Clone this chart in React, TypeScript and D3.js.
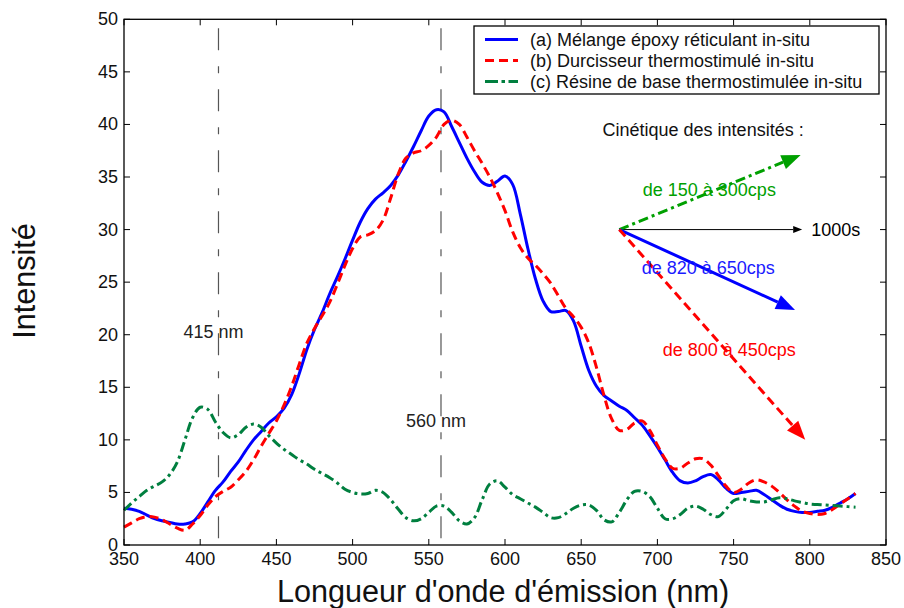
import React from "react";
import * as d3 from "d3";

const xGrid = [350,355,360,365,370,375,380,385,390,395,400,405,410,415,420,425,430,435,440,445,450,455,460,465,470,475,480,485,490,495,500,505,510,515,520,525,530,535,540,545,550,555,560,565,570,575,580,585,590,595,600,605,610,615,620,625,630,635,640,645,650,655,660,665,670,675,680,685,690,695,700,705,710,715,720,725,730,735,740,745,750,755,760,765,770,775,780,785,790,795,800,805,810,815,820,825,830];

const seriesA = [3.5,3.4,3.2,2.85,2.5,2.3,2.15,2.0,2.0,2.2,3.0,4.1,5.2,6.0,7.0,7.9,9.0,10.0,10.8,11.6,12.2,13.0,14.3,16.3,18.6,20.5,22.1,23.9,25.5,27.2,29.0,30.7,32.0,32.9,33.5,34.2,35.2,36.5,37.9,39.4,40.8,41.4,41.2,39.8,38.3,36.8,35.5,34.5,34.2,34.6,35.1,34.3,31.5,28.2,25.3,23.2,22.2,22.2,22.3,21.3,18.9,16.6,15.1,14.2,13.7,13.2,12.8,12.1,11.4,10.4,9.3,8.1,6.9,6.1,5.9,6.1,6.5,6.7,6.2,5.4,4.9,5.0,5.1,5.2,4.8,4.3,3.8,3.4,3.2,3.1,3.1,3.2,3.3,3.6,4.0,4.4,4.9];

const seriesB = [1.7,2.1,2.5,2.7,2.65,2.4,2.0,1.6,1.4,2.0,2.8,3.8,4.6,5.1,5.5,6.2,7.0,8.1,9.4,10.6,11.8,13.3,15.1,17.2,19.2,20.6,21.8,23.1,24.8,26.6,28.2,29.3,29.5,29.9,30.9,33.0,35.3,36.8,37.3,37.5,38.0,38.8,40.0,40.4,40.0,38.8,37.5,36.3,35.0,33.5,31.8,29.8,28.3,27.3,26.6,25.8,24.9,23.7,22.5,21.7,20.7,19.2,16.9,14.2,12.0,10.9,11.0,11.6,11.8,10.9,9.5,8.2,7.3,7.3,7.8,8.2,8.2,7.6,6.6,5.6,5.0,5.3,5.9,6.2,6.0,5.6,5.0,4.3,3.7,3.2,3.0,2.9,3.0,3.4,3.9,4.4,4.9];

const seriesC = [3.3,4.0,4.6,5.2,5.6,6.0,6.7,7.9,10.0,12.1,13.1,12.9,11.7,10.7,10.2,10.5,11.2,11.5,11.2,10.4,9.7,9.1,8.6,8.1,7.7,7.2,6.8,6.4,5.9,5.3,5.0,4.85,4.9,5.2,5.0,4.3,3.4,2.6,2.3,2.5,3.1,3.7,3.7,3.1,2.3,2.0,2.6,4.3,5.8,6.1,5.5,4.8,4.4,4.0,3.6,3.1,2.6,2.6,3.0,3.5,3.8,3.8,3.3,2.4,2.2,3.1,4.3,5.1,5.1,4.6,3.5,2.5,2.5,2.9,3.5,3.7,3.4,2.9,2.7,3.4,4.2,4.4,4.2,4.1,4.1,4.3,4.5,4.4,4.2,4.05,3.9,3.85,3.8,3.75,3.7,3.65,3.6];

const seriesNames = [
  "(a) Mélange époxy réticulant in-situ",
  "(b) Durcisseur thermostimulé in-situ",
  "(c) Résine de base thermostimulée in-situ",
];

const xTicks = [350,400,450,500,550,600,650,700,750,800,850];
const yTicks = [0,5,10,15,20,25,30,35,40,45,50];

const refLines = [412, 558];
const refLabels = ["415 nm", "560 nm"];
const refLabelY = [20.3, 11.8];

const arrowOrigin = [675, 30];
const arrowEnds = [[795, 30],[794, 37.1],[790.3, 22.35],[797, 10.0]];
const arrowLabels = ["1000s","de 150 à 300cps","de 820 à 650cps","de 800 à 450cps"];
const arrowLabelPos = [[801, 30],[690.4, 33.8],[689.7, 26.35],[703.5, 18.55]];
const titleText = "Cinétique des intensités :";
const titlePos = [664, 39.5];

const FONT = "'Liberation Sans', Arial, Helvetica, sans-serif";
const FS = 18;

export default function App() {
  const W = 904, H = 608;
  const x = d3.scaleLinear().domain([350, 850]).range([124, 886]);
  const y = d3.scaleLinear().domain([0, 50]).range([545, 19.3]);

  const line = d3.line<number>()
    .x((_, i) => x(xGrid[i]))
    .y((d) => y(d))
    .curve(d3.curveCatmullRom.alpha(0.5));

  const styles = [
    { color: "#0000ff", dash: undefined },
    { color: "#ff0000", dash: "9,5" },
    { color: "#007f3f", dash: "10,4,3,4" },
  ];
  const data = [seriesA, seriesB, seriesC];

  const arrowStyles = [
    { color: "#000000", width: 1, dash: undefined, head: 9, half: 3.5 },
    { color: "#00a000", width: 3, dash: "10,4,3,4", head: 19, half: 7.5 },
    { color: "#0000ff", width: 3, dash: undefined, head: 19, half: 7.5 },
    { color: "#ff0000", width: 3, dash: "9,5", head: 19, half: 7.5 },
  ];
  const labelColors = ["#000000", "#00a000", "#1a1aff", "#ff0000"];

  const ox = x(arrowOrigin[0]), oy = y(arrowOrigin[1]);

  return (
    <svg width={W} height={H} style={{ position: "absolute", left: 0, top: 0, background: "#fff" }} fontFamily={FONT}>
      <rect x={0} y={0} width={W} height={H} fill="#fff" />
      {refLines.map((v, i) => (
        <g key={"ref" + i}>
          <line x1={x(v)} x2={x(v)} y1={28.3} y2={545} stroke="#555" strokeWidth={1.2} strokeDasharray="22,16,7,16" />
          <text x={x(v) - 35} y={y(refLabelY[i])} fontSize={FS} dominantBaseline="central" fill="#222">{refLabels[i]}</text>
        </g>
      ))}
      {data.map((s, i) => (
        <path key={"s" + i} d={line(s) || ""} fill="none" stroke={styles[i].color} strokeWidth={3} strokeDasharray={styles[i].dash} strokeLinejoin="round" />
      ))}
      <rect x={124} y={19.3} width={762} height={525.7} fill="none" stroke="#000" strokeWidth={1.3} />
      {xTicks.map((t) => (
        <g key={"xt" + t}>
          <line x1={x(t)} x2={x(t)} y1={545} y2={539} stroke="#000" />
          <line x1={x(t)} x2={x(t)} y1={19.3} y2={25.3} stroke="#000" />
          <text x={x(t)} y={565} fontSize={FS} textAnchor="middle" fill="#111">{t}</text>
        </g>
      ))}
      {yTicks.map((t) => (
        <g key={"yt" + t}>
          <line x1={124} x2={130} y1={y(t)} y2={y(t)} stroke="#000" />
          <line x1={886} x2={880} y1={y(t)} y2={y(t)} stroke="#000" />
          <text x={118} y={y(t)} fontSize={FS} textAnchor="end" dominantBaseline="central" fill="#111">{t}</text>
        </g>
      ))}
      <text x={503} y={602} fontSize={30.6} textAnchor="middle" fill="#111">Longueur d'onde d'émission (nm)</text>
      <text transform={`translate(35,281) rotate(-90)`} fontSize={30.6} textAnchor="middle" fill="#111">Intensité</text>
      <rect x={474} y={26} width={405} height={68} fill="#fff" stroke="#000" strokeWidth={1.3} />
      {seriesNames.map((n, i) => {
        const ly = 39.5 + i * 21;
        return (
          <g key={"lg" + i}>
            <line x1={485} x2={518} y1={ly} y2={ly} stroke={styles[i].color} strokeWidth={3} strokeDasharray={i === 2 ? "13,3.5,3.5,3.5" : styles[i].dash} />
            <text x={530} y={ly} fontSize={FS} dominantBaseline="central" fill="#111">{n}</text>
          </g>
        );
      })}
      <text x={x(titlePos[0])} y={y(titlePos[1])} fontSize={FS} dominantBaseline="central" fill="#111">{titleText}</text>
      {arrowEnds.map((e, i) => {
        const st = arrowStyles[i];
        const ex = x(e[0]), ey = y(e[1]);
        const ang = Math.atan2(ey - oy, ex - ox);
        const bx = ex - st.head * Math.cos(ang), by = ey - st.head * Math.sin(ang);
        const px = -Math.sin(ang) * st.half, py = Math.cos(ang) * st.half;
        const pts = `${ex},${ey} ${bx + px},${by + py} ${bx - px},${by - py}`;
        return (
          <g key={"ar" + i}>
            <line x1={ox} y1={oy} x2={bx} y2={by} stroke={st.color} strokeWidth={st.width} strokeDasharray={st.dash} />
            <polygon points={pts} fill={st.color} />
          </g>
        );
      })}
      {arrowLabels.map((t, i) => (
        <text key={"al" + i} x={x(arrowLabelPos[i][0])} y={y(arrowLabelPos[i][1])} fontSize={FS} dominantBaseline="central" fill={labelColors[i]}>{t}</text>
      ))}
    </svg>
  );
}
